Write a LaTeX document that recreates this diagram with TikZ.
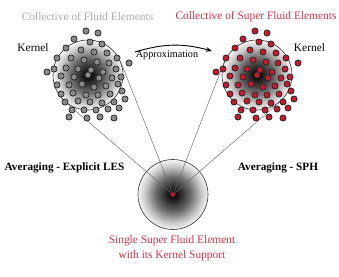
\documentclass[tikz,border=0pt]{standalone}
\usepackage{fontspec}
\setmainfont{Liberation Serif}
\usetikzlibrary{arrows.meta, calc, positioning}
\definecolor{sphRed}{RGB}{196, 26, 48}
\definecolor{labelRed}{RGB}{206, 50, 66}
\definecolor{dotGray}{RGB}{138, 138, 138}
\definecolor{labelGray}{RGB}{170, 170, 170}
\pgfdeclareradialshading{kernelfade}{\pgfpoint{0bp}{0bp}}{%
  color(0bp)=(black); color(3bp)=(black!92); color(12.5bp)=(black!58);
  color(20bp)=(black!22); color(25bp)=(black!4); color(50bp)=(white)}

\begin{document}
\begin{tikzpicture}[
    x=1pt, y=-1pt,
    kernel_disc/.style={
        circle,
        draw=black!80,
        line width=0.6pt,
        minimum size=70pt,
        inner sep=0pt,
        shading=kernelfade
    },
    support_line/.style={
        draw=black!60,
        line width=0.45pt
    },
    fluid_dot/.style={
        fill=dotGray,
        draw=black!85,
        line width=0.7pt
    },
    super_dot/.style={
        fill=sphRed,
        draw=black!85,
        line width=0.7pt
    },
    title_gray/.style={
        text=labelGray,
        font=\fontsize{11.4}{15}\selectfont
    },
    title_red/.style={
        text=labelRed,
        font=\fontsize{11.4}{15}\selectfont,
        align=center
    },
    plain_label/.style={
        font=\fontsize{11.4}{14}\selectfont
    },
    avg_label/.style={
        font=\fontsize{11.2}{14}\selectfont\bfseries
    },
    approx_arrow/.style={
        -{Stealth[length=6pt, width=4.5pt]},
        line width=0.9pt
    }
]
    \useasboundingbox (0,0) rectangle (339,276);

    % Kernels
    \node[kernel_disc] (singlekernel) at (173,194.5) {};
    \node[kernel_disc] (fluidkernel) at (88,75) {};
    \node[kernel_disc] (superkernel) at (257,75) {};

    % Support lines
    \draw[support_line] (singlekernel.center) -- (tangent cs:node=fluidkernel, point={(singlekernel.center)}, solution=1);
    \draw[support_line] (singlekernel.center) -- (tangent cs:node=fluidkernel, point={(singlekernel.center)}, solution=2);
    \draw[support_line] (singlekernel.center) -- (tangent cs:node=superkernel, point={(singlekernel.center)}, solution=1);
    \draw[support_line] (singlekernel.center) -- (tangent cs:node=superkernel, point={(singlekernel.center)}, solution=2);
    \filldraw[super_dot, line width=0.5pt] (singlekernel.center) circle (2.5pt);

    % Particle clouds
    \foreach \dx/\dy in {-2/-44, 10/-42,
        -14/-36, 2/-33, 14/-31,
        -22/-27, -7/-25, 6/-23, 19/-22, 29/-17,
        -31/-17, -17/-17, -4/-15, 9/-13, 21/-12, 41/-12,
        -34/-6, -22/-7, -10/-6, 3/-5, 15/-3, 28/-6,
        -41/-3, -27/1, 0/0, -14/2, 11/3, 24/3, 33/2,
        -31/10, -19/10, -6/9, 6/12, 18/11, 30/9,
        -27/19, -15/18, -2/20, 10/20, 22/19, 34/16,
        -23/27, -10/26, 2/27, 14/28, 26/27, 37/24,
        -16/35, -4/35, 8/35, 20/34, 31/33,
        -19/42, -1/43, 12/42, 26/43} {
        \filldraw[fluid_dot] ([shift={(\dx,\dy)}]fluidkernel.center) circle (3.1pt);
        \filldraw[super_dot] ([shift={(\dx,\dy)}]superkernel.center) circle (3.1pt);
    }

    % Labels
    \node[title_gray] (fluidtitle) at (87.5,17) {Collective of Fluid Elements};
    \node[title_red] (supertitle) at (256,17) {Collective of Super Fluid Elements};
    \node[plain_label] (fluidkernellabel) at (33,47.5) {Kernel};
    \node[plain_label] (superkernellabel) at (309.5,47.5) {Kernel};
    \node[avg_label] (leslabel) at (64.5,168) {Averaging - Explicit LES};
    \node[avg_label] (sphlabel) at (278,168) {Averaging - SPH};
    \node[title_red] (singlelabel) at (172,248) {Single Super Fluid Element\\with its Kernel Support};

    % Approximation arrow
    \node[font=\fontsize{10.2}{12}\selectfont] (approxlabel) at (167,55.5) {Approximation};
    \coordinate (approxstart) at (135,52);
    \coordinate (approxend) at (212,51);
    \draw[approx_arrow] (approxstart) to[bend left=16] (approxend);
\end{tikzpicture}
\end{document}
